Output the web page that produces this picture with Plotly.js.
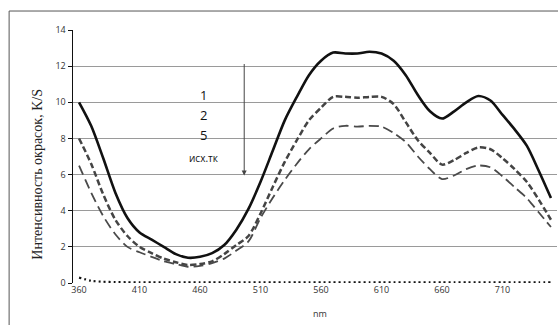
<!DOCTYPE html>
<html>
<head>
<meta charset="utf-8">
<script src="https://cdn.plot.ly/plotly-3.0.1.min.js"></script>
<style>html,body{margin:0;padding:0;background:#fff;}</style>
</head>
<body>
<div id="chart" style="width:558px;height:325px;"></div>
<script>
const wavelengths = [360,370,380,390,400,410,420,430,440,450,460,470,480,490,500,510,520,530,540,550,560,570,580,590,600,610,620,630,640,650,660,670,680,690,700,710,720,730,740,750];
const series1 = [10.0,8.7,6.9,5.0,3.6,2.8,2.4,2.0,1.6,1.4,1.45,1.65,2.1,2.95,4.1,5.6,7.3,9.0,10.3,11.5,12.3,12.75,12.7,12.7,12.8,12.7,12.3,11.5,10.4,9.5,9.1,9.5,10.0,10.35,10.1,9.3,8.5,7.6,6.2,4.7];
const series2 = [8.0,6.6,4.9,3.5,2.6,2.0,1.65,1.35,1.15,1.0,1.05,1.2,1.6,2.1,2.6,3.85,5.3,6.7,7.9,9.0,9.7,10.3,10.3,10.25,10.3,10.3,9.9,8.9,7.9,7.2,6.55,6.8,7.2,7.5,7.4,6.9,6.3,5.6,4.6,3.5];
const series5 = [6.5,5.0,3.7,2.7,2.0,1.7,1.45,1.2,1.05,0.9,0.95,1.1,1.35,1.8,2.3,3.6,4.7,5.7,6.6,7.4,8.0,8.55,8.7,8.65,8.7,8.65,8.3,7.8,7.0,6.3,5.75,5.95,6.3,6.5,6.4,5.9,5.3,4.7,3.9,3.1];
const seriesBase = [0.3,0.12,0.07,0.05,0.04,0.03,0.03,0.03,0.03,0.03,0.03,0.03,0.03,0.03,0.03,0.03,0.03,0.03,0.03,0.03,0.03,0.03,0.03,0.03,0.03,0.03,0.03,0.03,0.03,0.03,0.03,0.03,0.03,0.03,0.03,0.03,0.03,0.03,0.03,0.03];
const xTicks = [360,410,460,510,560,610,660,710];
const yTicks = [0,2,4,6,8,10,12,14];
const labels = ["1","2","5","исх.тк"];

const traces = [
  {x: wavelengths, y: seriesBase, mode:'lines', line:{color:'#111', width:2.2, dash:'2px,3px', shape:'spline', smoothing:0.6}},
  {x: wavelengths, y: series5, mode:'lines', line:{color:'#4a4a4a', width:1.8, dash:'10px,5px', shape:'spline', smoothing:0.8}},
  {x: wavelengths, y: series2, mode:'lines', line:{color:'#444', width:2.5, dash:'6px,3px', shape:'spline', smoothing:0.8}},
  {x: wavelengths, y: series1, mode:'lines', line:{color:'#111', width:2.6, shape:'spline', smoothing:0.8}}
];

const tickFont = {family:'Open Sans, Liberation Sans, sans-serif', size:9, color:'#333'};
const labelFont = {family:'Open Sans, sans-serif', size:13, color:'#111111'};
const layout = {
  width:558, height:325,
  margin:{l:73, r:1, t:30, b:42},
  showlegend:false,
  paper_bgcolor:'#fff', plot_bgcolor:'#fff',
  xaxis:{range:[355,755], tickvals:xTicks, ticktext:xTicks.map(String), showgrid:false, zeroline:false,
         showline:false, ticks:'', tickfont:tickFont},
  yaxis:{range:[0,14], tickvals:yTicks, showgrid:true, gridcolor:'#9a9a9a', gridwidth:1, zeroline:false,
         showline:true, linecolor:'#111', linewidth:1.5, ticks:'outside', ticklen:4, tickcolor:'#111',
         tickfont:tickFont},
  shapes:[
    {type:'rect', xref:'paper', yref:'paper', x0:-0.132, x1:1.01, y0:-0.2, y1:1.075, line:{color:'#555', width:1}, fillcolor:'rgba(0,0,0,0)', layer:'below'}
  ],
  annotations:[
    {xref:'paper', yref:'paper', x:-0.093, y:0.43, text:'Интенсивность окрасок, K/S', textangle:-90, showarrow:false,
     font:{family:'Liberation Serif, DejaVu Serif, serif', size:14, color:'#222'}},
    {xref:'paper', yref:'paper', x:0.51, y:-0.119, yanchor:'middle', text:'nm', showarrow:false,
     font:{family:'Open Sans, Liberation Sans, sans-serif', size:9, color:'#333'}},
    {xref:'x', yref:'y', x:496.5, y:5.95, ax:496.5, ay:12.2, axref:'x', ayref:'y', text:'', showarrow:true,
     arrowhead:2, arrowsize:1, arrowwidth:1, arrowcolor:'#444'},
    {xref:'x', yref:'y', x:463, y:10.4, text:labels[0], showarrow:false, font:labelFont},
    {xref:'x', yref:'y', x:463, y:9.3, text:labels[1], showarrow:false, font:labelFont},
    {xref:'x', yref:'y', x:463, y:8.2, text:labels[2], showarrow:false, font:labelFont},
    {xref:'x', yref:'y', x:463, y:6.9, text:labels[3], showarrow:false, font:{family:'Open Sans, sans-serif', size:10, color:'#111111'}}
  ]
};
Plotly.newPlot('chart', traces, layout, {displayModeBar:false, staticPlot:true});
</script>
</body>
</html>
